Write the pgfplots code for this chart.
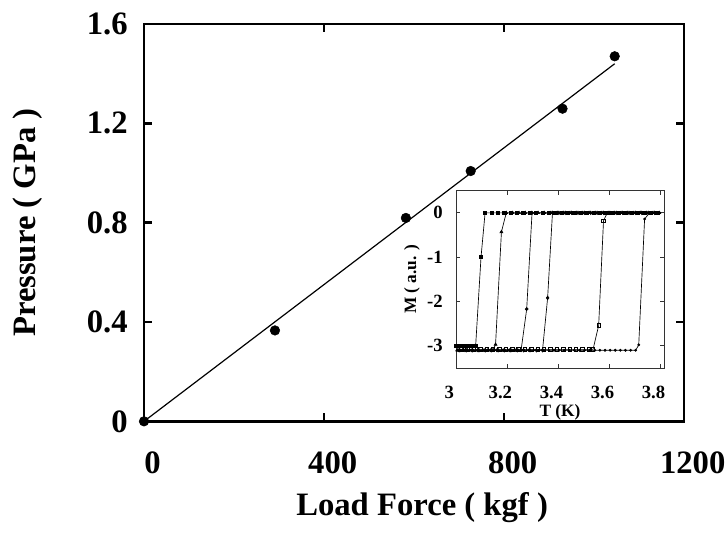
\documentclass[border=0pt]{standalone}
\usepackage{fontspec}
\setmainfont{Liberation Serif}
\usepackage{pgfplots}
\pgfplotsset{compat=1.18}
\begin{document}
\begin{tikzpicture}
\useasboundingbox (-108pt,-85.1pt) rectangle (438pt,316pt);
\begin{axis}[
  at={(0pt,0pt)}, anchor=south west,
  scale only axis, width=405pt, height=298pt,
  xmin=0, xmax=1200, ymin=0, ymax=1.6,
  xtick={0,400,800,1200}, xticklabels={0,400,800,1200},
  ytick={0,0.4,0.8,1.2,1.6}, yticklabels={0,0.4,0.8,1.2,1.6},
  /pgf/number format/assume math mode=true,
  tick label style={font=\fontsize{24.5}{28}\selectfont\bfseries},
  xticklabel style={anchor=center, inner sep=0pt, yshift=-31pt, xshift=6.5pt},
  yticklabel style={anchor=east, inner sep=0pt, xshift=-12pt},
  major tick length=6pt,
  tick style={line width=2pt, black},
  axis line style={line width=2pt},
  xlabel={Load Force ( kgf )}, ylabel={Pressure ( GPa )},
  label style={font=\fontsize{24.5}{28}\selectfont\bfseries},
  xlabel style={at={(axis description cs:0.515,-0.218)}, anchor=center},
  ylabel style={at={(axis description cs:-0.2148,0.5)}, anchor=center},
  clip=false,
]
\addplot[black, line width=0.9pt] coordinates {(0,0) (1046,1.44)};
\addplot[only marks, mark=*, mark size=3.6pt, black] coordinates {
(0,0) (291,0.366) (582,0.819) (726,1.008) (930,1.259) (1046,1.47)};
\end{axis}
\begin{axis}[
  at={(234pt,40pt)}, anchor=south west,
  scale only axis, width=156pt, height=133pt,
  xmin=3, xmax=3.815, ymin=-3.5, ymax=0.5,
  xtick={3,3.2,3.4,3.6,3.8}, xticklabels={3,3.2,3.4,3.6,3.8},
  ytick={-3,-2,-1,0}, yticklabels={-3,-2,-1,0},
  tick label style={font=\fontsize{14}{16}\selectfont\bfseries},
  xticklabel style={anchor=center, inner sep=0pt, yshift=-18pt, xshift=-5pt},
  yticklabel style={anchor=east, inner sep=0pt, xshift=-9.75pt},
  major tick length=3pt,
  tick style={line width=0.6pt, black!80},
  axis line style={line width=0.7pt, black!80},
  xlabel={T (K)}, ylabel={M ( a.u. )},
  label style={font=\fontsize{13}{15}\selectfont\bfseries},
  xlabel style={at={(axis description cs:0.5,-0.25)}, anchor=center},
  ylabel style={at={(axis description cs:-0.2115,0.5)}, anchor=center},
  axis background/.style={fill=white},
  every axis plot/.append style={line width=0.5pt, black},
]
% curve 1
\addplot[mark=square*, mark size=1.2pt] coordinates {
(3.000,-3.0)(3.015,-3.0)(3.030,-3.0)(3.045,-3.0)(3.060,-3.0)(3.077,-3.0)
(3.098,-1.0)(3.114,0)
(3.139,0)(3.164,0)(3.189,0)(3.214,0)(3.239,0)(3.264,0)(3.289,0)(3.314,0)(3.339,0)
(3.364,0)(3.389,0)(3.414,0)(3.439,0)(3.464,0)(3.489,0)(3.514,0)(3.539,0)(3.564,0)
(3.589,0)(3.614,0)(3.639,0)(3.664,0)(3.689,0)(3.714,0)(3.739,0)(3.764,0)(3.789,0)};
% curve 2
\addplot[mark=triangle*, mark size=1.2pt] coordinates {
(3.005,-3.1)(3.025,-3.1)(3.045,-3.1)(3.065,-3.1)(3.085,-3.1)(3.105,-3.1)(3.125,-3.1)(3.145,-3.1)
(3.155,-2.97)(3.178,-0.43)(3.197,0)
(3.222,0)(3.247,0)(3.272,0)(3.297,0)(3.322,0)(3.347,0)(3.372,0)(3.397,0)(3.422,0)
(3.447,0)(3.472,0)(3.497,0)(3.522,0)(3.547,0)(3.572,0)(3.597,0)(3.622,0)(3.647,0)
(3.672,0)(3.697,0)(3.722,0)(3.747,0)(3.772,0)(3.797,0)};
% curve 3
\addplot[mark=*, mark size=1.1pt] coordinates {
(3.010,-3.1)(3.035,-3.1)(3.060,-3.1)(3.085,-3.1)(3.110,-3.1)(3.135,-3.1)(3.160,-3.1)
(3.185,-3.1)(3.210,-3.1)(3.235,-3.1)(3.255,-3.1)
(3.277,-2.17)(3.298,0)
(3.318,0)(3.343,0)(3.368,0)(3.393,0)(3.418,0)(3.443,0)(3.468,0)(3.493,0)(3.518,0)
(3.543,0)(3.568,0)(3.593,0)(3.618,0)(3.643,0)(3.668,0)(3.693,0)(3.718,0)(3.743,0)
(3.768,0)(3.793,0)};
% curve 4
\addplot[mark=diamond*, mark size=1.3pt] coordinates {
(3.015,-3.1)(3.040,-3.1)(3.065,-3.1)(3.090,-3.1)(3.115,-3.1)(3.140,-3.1)(3.165,-3.1)
(3.190,-3.1)(3.215,-3.1)(3.240,-3.1)(3.265,-3.1)(3.290,-3.1)(3.315,-3.1)(3.339,-3.1)
(3.359,-1.92)(3.378,0)
(3.403,0)(3.428,0)(3.453,0)(3.478,0)(3.503,0)(3.528,0)(3.553,0)(3.578,0)(3.603,0)
(3.628,0)(3.653,0)(3.678,0)(3.703,0)(3.728,0)(3.753,0)(3.778,0)};
% curve 5
\addplot[mark=square, mark size=1.3pt] coordinates {
(3.020,-3.08)(3.045,-3.08)(3.070,-3.08)(3.095,-3.08)(3.120,-3.08)(3.145,-3.08)(3.170,-3.08)
(3.195,-3.08)(3.220,-3.08)(3.245,-3.08)(3.270,-3.08)(3.295,-3.08)(3.320,-3.08)(3.345,-3.08)
(3.370,-3.08)(3.395,-3.08)(3.420,-3.08)(3.445,-3.08)(3.470,-3.08)(3.495,-3.08)(3.520,-3.08)
(3.537,-3.08)
(3.559,-2.54)(3.578,-0.18)(3.593,0)
(3.613,0)(3.638,0)(3.663,0)(3.688,0)(3.713,0)(3.738,0)(3.763,0)(3.788,0)};
% curve 6
\addplot[mark=*, mark size=0.8pt] coordinates {
(3.004,-3.1)(3.024,-3.1)(3.044,-3.1)(3.064,-3.1)(3.084,-3.1)(3.104,-3.1)(3.124,-3.1)
(3.144,-3.1)(3.164,-3.1)(3.184,-3.1)(3.204,-3.1)(3.224,-3.1)(3.244,-3.1)(3.264,-3.1)
(3.284,-3.1)(3.304,-3.1)(3.324,-3.1)(3.344,-3.1)(3.364,-3.1)(3.384,-3.1)(3.404,-3.1)
(3.424,-3.1)(3.444,-3.1)(3.464,-3.1)(3.484,-3.1)(3.504,-3.1)(3.524,-3.1)(3.544,-3.1)
(3.564,-3.1)(3.584,-3.1)(3.604,-3.1)(3.624,-3.1)(3.644,-3.1)(3.664,-3.1)(3.684,-3.1)
(3.704,-3.1)
(3.716,-2.98)(3.739,-0.14)(3.758,0)(3.778,0)(3.798,0)};
\end{axis}
\end{tikzpicture}
\end{document}
